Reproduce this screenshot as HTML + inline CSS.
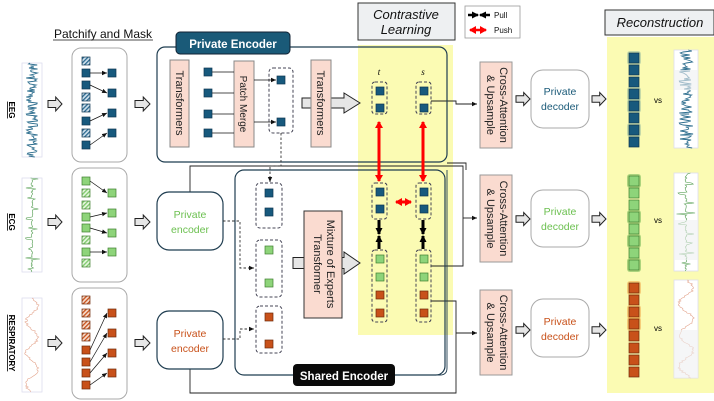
<!DOCTYPE html>
<html><head><meta charset="utf-8"><style>
html,body{margin:0;padding:0;background:#fff;width:714px;height:401px;overflow:hidden}
svg{display:block;font-family:"Liberation Sans",sans-serif}
</style></head><body>
<svg id="s" width="714" height="401" viewBox="0 0 714 401" xmlns="http://www.w3.org/2000/svg">
<defs>
<pattern id="hb" width="3" height="3" patternUnits="userSpaceOnUse" patternTransform="rotate(45)"><rect width="3" height="3" fill="#cfe0ec"/><rect width="1.3" height="3" fill="#2c6a90"/></pattern>
<pattern id="hg" width="3" height="3" patternUnits="userSpaceOnUse" patternTransform="rotate(45)"><rect width="3" height="3" fill="#e6f6de"/><rect width="1.3" height="3" fill="#7cc86a"/></pattern>
<pattern id="ho" width="3" height="3" patternUnits="userSpaceOnUse" patternTransform="rotate(45)"><rect width="3" height="3" fill="#f6dccd"/><rect width="1.3" height="3" fill="#c8511a"/></pattern>
<marker id="a" markerUnits="userSpaceOnUse" markerWidth="6" markerHeight="6" refX="5" refY="3" orient="auto"><path d="M0,0.8 L5,3 L0,5.2z" fill="#111"/></marker>
<marker id="r" markerUnits="userSpaceOnUse" markerWidth="8" markerHeight="8" refX="6" refY="4" orient="auto"><path d="M0,0 L7,4 L0,8z" fill="#f00"/></marker>
<marker id="rs" markerUnits="userSpaceOnUse" markerWidth="8" markerHeight="8" refX="1" refY="4" orient="auto"><path d="M7,0 L0,4 L7,8z" fill="#f00"/></marker>
<marker id="k" markerUnits="userSpaceOnUse" markerWidth="8" markerHeight="8" refX="6" refY="4" orient="auto"><path d="M0,0.5 L7,4 L0,7.5z" fill="#000"/></marker>
</defs>
<!-- yellow areas -->
<rect x="358" y="45" width="95" height="290" fill="#fbfbb3"/>
<rect x="607" y="37" width="107" height="356" fill="#fbfbb3"/>
<g id="bg"></g>
<!-- titles -->
<text x="103" y="38" font-size="12" text-anchor="middle" fill="#111">Patchify and Mask</text>
<line x1="53" y1="40" x2="153" y2="40" stroke="#111" stroke-width="0.8"/>
<rect x="358" y="3" width="97" height="37" fill="#eef0f2" stroke="#333" stroke-width="1"/>
<text x="406" y="19" font-size="13" font-style="italic" text-anchor="middle" fill="#111">Contrastive</text>
<text x="406" y="34" font-size="13" font-style="italic" text-anchor="middle" fill="#111">Learning</text>
<rect x="465" y="6" width="55" height="32" fill="#fff" stroke="#999" stroke-width="0.8"/>
<line x1="468" y1="15" x2="478" y2="15" stroke="#000" stroke-width="2.5" marker-end="url(#k)"/>
<line x1="490" y1="15" x2="480" y2="15" stroke="#000" stroke-width="2.5" marker-end="url(#k)"/>
<text x="494" y="18" font-size="8" fill="#111">Pull</text>
<line x1="470" y1="30" x2="486" y2="30" stroke="#f00" stroke-width="2.5" marker-end="url(#r)" marker-start="url(#rs)"/>
<text x="494" y="33" font-size="8" fill="#111">Push</text>
<rect x="605" y="10" width="109" height="25" fill="#eef0f2" stroke="#333" stroke-width="1"/>
<text x="660" y="27" font-size="13" font-style="italic" text-anchor="middle" fill="#111">Reconstruction</text>

<!-- signal labels -->
<text transform="translate(9,110) rotate(90)" font-size="8" font-weight="bold" text-anchor="middle" text-decoration="underline">EEG</text>
<text transform="translate(9,222) rotate(90)" font-size="8" font-weight="bold" text-anchor="middle" text-decoration="underline">ECG</text>
<text transform="translate(9,343) rotate(90)" font-size="8" font-weight="bold" text-anchor="middle" text-decoration="underline">RESPIRATORY</text>

<!-- patchify boxes -->
<rect x="72" y="48" width="55" height="114" rx="9" fill="#fff" stroke="#aaa"/>
<rect x="72" y="168" width="55" height="114" rx="9" fill="#fff" stroke="#aaa"/>
<rect x="72" y="288" width="55" height="111" rx="9" fill="#fff" stroke="#aaa"/>

<!-- connectors (background) -->
<g fill="none" stroke="#222" stroke-width="0.9">
<polyline points="431,101 456,101 456,104 477,104" marker-end="url(#a)"/>
<polyline points="190,192 190,166 463,166 463,266 431,266"/>
<line x1="463" y1="218" x2="477" y2="218" marker-end="url(#a)"/>
<polyline points="447,163 466,163 466,170"/>
<polyline points="431,301 456,301 456,393 190,393 190,369"/>
<line x1="456" y1="333" x2="477" y2="333" marker-end="url(#a)"/>
</g>

<!-- private encoder big -->
<rect x="157" y="47" width="290" height="115" rx="8" fill="none" stroke="#1f3d50" stroke-width="1.2"/>
<rect x="176" y="32" width="114" height="22" rx="4" fill="#1a5a78" stroke="#123" stroke-width="1"/>
<text x="233" y="48" font-size="11.5" font-weight="bold" fill="#fff" text-anchor="middle">Private Encoder</text>
<g id="bg2"></g>
<rect x="170" y="60" width="19" height="87" fill="#fadbd0" stroke="#888"/>
<text transform="translate(176,103) rotate(90)" font-size="11" text-anchor="middle" fill="#222">Transformers</text>
<rect x="234" y="61" width="20" height="86" fill="#fadbd0" stroke="#888"/>
<text transform="translate(240,104) rotate(90)" font-size="10" text-anchor="middle" fill="#222">Patch Merge</text>
<rect x="311" y="60" width="20" height="87" fill="#fadbd0" stroke="#888"/>
<text transform="translate(317,103) rotate(90)" font-size="11" text-anchor="middle" fill="#222">Transformers</text>
<rect x="269" y="68" width="24" height="65" rx="4" fill="none" stroke="#445" stroke-dasharray="3,2"/>

<!-- shared encoder -->
<rect x="235" y="170" width="210" height="205" rx="9" fill="none" stroke="#1f3d50" stroke-width="1.2"/>
<rect x="256" y="183" width="26" height="45" rx="4" fill="none" stroke="#445" stroke-dasharray="3,2"/>
<rect x="256" y="240" width="26" height="57" rx="4" fill="none" stroke="#445" stroke-dasharray="3,2"/>
<rect x="256" y="306" width="26" height="47" rx="4" fill="none" stroke="#445" stroke-dasharray="3,2"/>
<rect x="304" y="211" width="38" height="107" fill="#fadbd0" stroke="#333"/>
<text transform="translate(327,264) rotate(90)" font-size="11" text-anchor="middle" fill="#222">Mixture of Experts</text>
<text transform="translate(314,264) rotate(90)" font-size="11" text-anchor="middle" fill="#222">Transformer</text>
<path d="M395,375 L440,375 Q447,375 447,368 L447,170" fill="none" stroke="#1f3d50" stroke-width="0.9"/>
<rect x="293" y="364" width="102" height="22" rx="4" fill="#0a0a0a"/>
<text x="344" y="380" font-size="11.5" font-weight="bold" fill="#fff" text-anchor="middle">Shared Encoder</text>

<!-- private encoders small -->
<rect x="157" y="192" width="66" height="58" rx="12" fill="#fff" stroke="#1f3d50" stroke-width="1.2"/>
<text x="190" y="218" font-size="10.5" fill="#6cc050" text-anchor="middle">Private</text>
<text x="190" y="233" font-size="10.5" fill="#6cc050" text-anchor="middle">encoder</text>
<rect x="157" y="311" width="66" height="58" rx="12" fill="#fff" stroke="#1f3d50" stroke-width="1.2"/>
<text x="190" y="337" font-size="10.5" fill="#c8511a" text-anchor="middle">Private</text>
<text x="190" y="352" font-size="10.5" fill="#c8511a" text-anchor="middle">encoder</text>

<!-- contrastive dashed boxes -->
<text x="379" y="75" font-size="9" font-style="italic" font-family="Liberation Serif" text-anchor="middle">t</text>
<text x="423" y="75" font-size="9" font-style="italic" font-family="Liberation Serif" text-anchor="middle">s</text>
<g fill="none" stroke="#445" stroke-dasharray="3,2">
<rect x="372" y="82" width="15" height="32" rx="3"/><rect x="416" y="82" width="15" height="32" rx="3"/>
<rect x="372" y="183" width="15" height="36" rx="3"/><rect x="416" y="183" width="15" height="36" rx="3"/>
<rect x="372" y="250" width="15" height="72" rx="3"/><rect x="416" y="250" width="15" height="72" rx="3"/>
</g>
<g stroke="#f00" stroke-width="3">
<line x1="379" y1="122" x2="379" y2="181" marker-end="url(#r)" marker-start="url(#rs)"/>
<line x1="423" y1="122" x2="423" y2="181" marker-end="url(#r)" marker-start="url(#rs)"/>
<line x1="396" y1="202" x2="411" y2="202" marker-end="url(#r)" marker-start="url(#rs)"/>
</g>
<g stroke="#000" stroke-width="3">
<line x1="379" y1="220" x2="379" y2="234" marker-end="url(#k)"/><line x1="379" y1="249" x2="379" y2="236" marker-end="url(#k)"/>
<line x1="423" y1="220" x2="423" y2="234" marker-end="url(#k)"/><line x1="423" y1="249" x2="423" y2="236" marker-end="url(#k)"/>
</g>

<g fill="none" stroke="#333" stroke-width="0.9" stroke-dasharray="2.5,2">
<polyline points="223,221 240,221 240,268 254,268" marker-end="url(#a)"/>
<polyline points="223,339 240,339 240,329 254,329" marker-end="url(#a)"/>
<polyline points="281,133 281,166 270,166 270,182" marker-end="url(#a)"/>
</g>
<g stroke="#111" stroke-width="0.8">
<line x1="212" y1="72" x2="234" y2="72"/><line x1="212" y1="93" x2="234" y2="93"/><line x1="212" y1="114" x2="234" y2="114"/><line x1="212" y1="133" x2="234" y2="133"/>
<line x1="254" y1="80" x2="276" y2="80" marker-end="url(#a)"/><line x1="254" y1="122" x2="276" y2="122" marker-end="url(#a)"/>
</g>

<!-- decoders -->
<rect x="531" y="70" width="58" height="58" rx="12" fill="#fff" stroke="#aaa"/>
<text x="560" y="95" font-size="10.5" fill="#1a5a78" text-anchor="middle">Private</text>
<text x="560" y="110" font-size="10.5" fill="#1a5a78" text-anchor="middle">decoder</text>
<rect x="531" y="190" width="58" height="57" rx="12" fill="#fff" stroke="#aaa"/>
<text x="560" y="215" font-size="10.5" fill="#6cc050" text-anchor="middle">Private</text>
<text x="560" y="230" font-size="10.5" fill="#6cc050" text-anchor="middle">decoder</text>
<rect x="531" y="299" width="58" height="58" rx="12" fill="#fff" stroke="#aaa"/>
<text x="560" y="325" font-size="10.5" fill="#c8511a" text-anchor="middle">Private</text>
<text x="560" y="340" font-size="10.5" fill="#c8511a" text-anchor="middle">decoder</text>
<text x="658" y="103" font-size="8" text-anchor="middle">vs</text>
<text x="658" y="223" font-size="8" text-anchor="middle">vs</text>
<text x="658" y="331" font-size="8" text-anchor="middle">vs</text>
</svg>
<script>
var NS="http://www.w3.org/2000/svg",S=document.getElementById('s');
function el(t,a,p){var e=document.createElementNS(NS,t);for(var k in a)e.setAttribute(k,a[k]);(p||S).appendChild(e);return e;}
var BG=document.getElementById('bg'),BG2=document.getElementById('bg2');
var B={f:'#17597d',s:'#0e3550',h:'url(#hb)'},G={f:'#8ed47a',s:'#3f7f30',h:'url(#hg)'},O={f:'#c8511a',s:'#6e2a0a',h:'url(#ho)'};
function sq(x,y,c,h,sz){sz=sz||8;el('rect',{x:x,y:y,width:sz,height:sz,fill:h?c.h:c.f,stroke:c.s,'stroke-width':0.7});}
function ln(x1,y1,x2,y2){el('line',{x1:x1,y1:y1,x2:x2,y2:y2,stroke:'#111','stroke-width':0.7,'marker-end':'url(#a)'});}
function arrow(x,y,w,h,p,hl){hl=hl||w*0.45;var hh=h/2,xb=x+w-hl;
 el('path',{d:'M'+x+','+(y-hh*0.5)+' L'+xb+','+(y-hh*0.5)+' L'+xb+','+(y-hh)+' L'+(x+w)+','+y+' L'+xb+','+(y+hh)+' L'+xb+','+(y+hh*0.5)+' L'+x+','+(y+hh*0.5)+'z',fill:'#e6e6e6',stroke:'#222','stroke-width':1},p);}
function patch(L,H,R,links,c){L.forEach(function(y,i){sq(82,y-4,c,H[i]);});R.forEach(function(y){sq(108,y-4,c,false);});links.forEach(function(p){ln(90,p[0],107,p[1]);});}
patch([61,73,85,97,108,121,133,145],[1,0,0,1,1,0,1,0],[73,93,113,133],[[73,73],[85,93],[121,113],[145,133]],B);
patch([181,193,205,217,228,240,252,263],[0,1,1,0,0,1,0,1],[193,213,233,252],[[181,193],[217,213],[228,233],[252,252]],G);
patch([300,313,325,337,350,362,373,385],[1,1,1,1,0,0,0,0],[313,333,353,373],[[350,313],[362,333],[373,353],[385,373]],O);
[72,93,114,133].forEach(function(y){sq(204,y-4,B);});
sq(277,76,B);sq(277,118,B);
sq(265,189,B);sq(265,208,B);sq(265,246,G);sq(265,279,G);sq(265,313,O);sq(265,340,O);
[[376,87,B],[376,104,B],[420,87,B],[420,104,B],[376,188,B],[376,205,B],[420,188,B],[420,205,B],[376,255,G],[376,273,G],[376,291,O],[376,309,O],[420,255,G],[420,273,G],[420,291,O],[420,309,O]].forEach(function(a){sq(a[0],a[1],a[2]);});
[104,222,343].forEach(function(y){arrow(48,y,14,14);arrow(135,y,15,14);});
arrow(302,103,58,20,BG2,16);arrow(293,263,67,22,BG,16);
[99,219,330].forEach(function(y){arrow(516,y,14,13);arrow(592,y,14,13);});
[[62,148],[175,262],[290,375]].forEach(function(b){el('rect',{x:480,y:b[0],width:32,height:b[1]-b[0],fill:'#fadbd0',stroke:'#999'});var cy=(b[0]+b[1])/2;
var t=el('text',{transform:'translate(500,'+cy+') rotate(90)','font-size':11,'text-anchor':'middle',fill:'#222'});t.textContent='Cross-Attention';
var t2=el('text',{transform:'translate(487,'+cy+') rotate(90)','font-size':11,'text-anchor':'middle',fill:'#222'});t2.textContent='& Upsample';});
function rec(y0,c,gl,glc){for(var i=0;i<8;i++){var y=y0+i*12;if(gl.indexOf(i)>=0)el('rect',{x:627,y:y-2,width:14,height:14,rx:3,fill:glc,opacity:0.5});sq(629,y,c,false,10);}}
rec(53,B,[0,3,4,6],'#8fb8a0');rec(176,G,[0,3,5,7],'#5fae4a');rec(283,O,[0,2,3],'#f2a040');
function wave(x,y,w,h,col,kind,seed){el('rect',{x:x,y:y,width:w,height:h,fill:'#fff',stroke:'#dde',"stroke-width":0.8});var p='',s=seed;function rnd(){s=(s*9301+49297)%233280;return s/233280;}
for(var i=0;i<=h;i+=1){var v;if(kind==0)v=(rnd()-0.5)*w*0.6;else if(kind==1)v=(i%10<2)?(rnd()-0.5)*w*0.8:(rnd()-0.5)*2;else v=Math.sin(i/5)*w*0.3+(rnd()-0.5)*3;p+=(i?'L':'M')+(x+w/2+v).toFixed(1)+','+(y+i);}
el('path',{d:p,fill:'none',stroke:col,'stroke-width':kind==0?0.9:0.6});}
wave(22,63,20,94,'#2f6f8f',0,3);wave(22,178,20,94,'#4d9a4a',1,5);wave(22,298,20,94,'#e3a38b',2,7);
wave(674,50,24,98,'#2f6f8f',0,11);wave(674,173,24,98,'#4d9a4a',1,13);wave(674,280,24,98,'#e3a38b',2,17);
el('rect',{x:674,y:70,width:24,height:20,fill:'#eef0f2',opacity:0.6});el('rect',{x:674,y:220,width:24,height:40,fill:'#eef0f2',opacity:0.6});el('rect',{x:674,y:330,width:24,height:48,fill:'#eef0f2',opacity:0.6});
</script>
</body></html>
